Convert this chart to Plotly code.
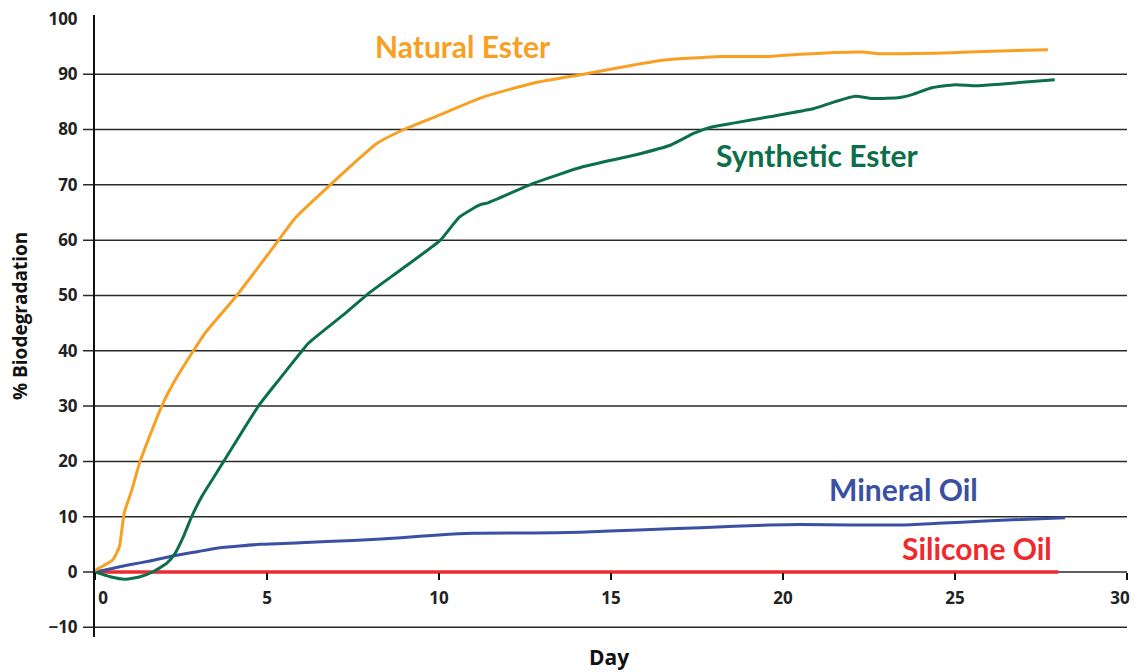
import plotly.graph_objects as go

# ---- data ----
natural_x = [0, 0.15, 0.52, 0.71, 0.78, 0.85, 1.07, 1.31, 1.94, 2.33, 2.86, 3.2, 4.12, 5.34, 5.82,
             6.84, 8.2, 8.98, 9.85, 11.3, 12.76, 14.2, 15.7, 16.6, 18.2, 19.6, 20.5, 21.5, 22.3,
             22.8, 23.4, 24.4, 25.4, 26.3, 27.7]
natural_y = [0.3, 0.8, 2.2, 4.6, 7.6, 10.7, 14.8, 20, 30, 34.7, 40, 43.2, 50, 60, 64,
             70, 77.5, 80, 82.2, 85.9, 88.4, 90, 91.7, 92.6, 93.2, 93.2, 93.6, 93.9, 94.0,
             93.7, 93.7, 93.8, 94.0, 94.2, 94.4]

synthetic_x = [0, 0.44, 0.87, 1.31, 1.69, 2.09, 2.33, 2.57, 2.81, 3.1, 3.4, 3.74, 4.75, 5.34,
               6.02, 6.21, 7.28, 8.0, 8.88, 10.04, 10.6, 11.2, 11.4, 12.76, 14.2, 15.7, 16.74,
               17.4, 17.9, 18.6, 19.6, 20.9, 21.5, 22.1, 22.6, 23.4, 23.8, 24.3, 25.0, 25.6,
               26.3, 27.9]
synthetic_y = [0, -0.85, -1.3, -0.85, 0.05, 1.6, 3.4, 6.4, 10, 13.6, 16.6, 20, 30, 34.7,
               40, 41.4, 46.8, 50.6, 54.6, 60, 64.2, 66.4, 66.7, 70.3, 73.3, 75.4, 77.2,
               79.3, 80.4, 81.2, 82.3, 83.8, 85.0, 86.0, 85.6, 85.8, 86.4, 87.5, 88.1, 87.9,
               88.2, 89.0]

mineral_x = [0, 0.5, 1, 1.6, 2.27, 3, 3.54, 4.2, 4.8, 5.97, 7.5, 8.9, 10, 11, 12.7, 14.1,
             15.8, 17.6, 19.6, 20.5, 22, 23.4, 24.5, 25.2, 26.5, 28.2]
mineral_y = [0, 0.65, 1.3, 2.0, 2.9, 3.7, 4.3, 4.7, 5.0, 5.3, 5.7, 6.2, 6.7, 7.0, 7.05, 7.2,
             7.6, 8.0, 8.5, 8.6, 8.5, 8.5, 8.8, 9.0, 9.4, 9.8]

silicone_x = [0, 28]
silicone_y = [0, 0]

y_ticks = [-10, 0, 10, 20, 30, 40, 50, 60, 70, 80, 90, 100]
grid_vals = [-10, 0, 10, 20, 30, 40, 50, 60, 70, 80, 90]
x_ticks = [0, 5, 10, 15, 20, 25, 30]
x_tick_text = ["0", "5", "10", "15", "20", "25", "30"]

labels = ["Natural Ester", "Synthetic Ester", "Mineral Oil", "Silicone Oil"]
label_x = [10.7, 21.0, 23.5, 25.65]
label_y = [95.1, 75.4, 15.0, 4.3]

C_ORANGE = "#F7A023"
C_GREEN = "#0B7049"
C_BLUE = "#3A50A2"
C_RED = "#EE2A2F"
colors = [C_ORANGE, C_GREEN, C_BLUE, C_RED]

LABEL_FONT = "Lato"
AXIS_FONT = "Open Sans"
YMIN, YMAX = -11.75, 100.7
PLOT_W, PLOT_H = 1032, 622
XPOS = (0 - YMIN) / (YMAX - YMIN)

fig = go.Figure()
fig.add_trace(go.Scatter(x=silicone_x, y=silicone_y, mode="lines",
                         line=dict(color=C_RED, width=3.5), showlegend=False))
fig.add_trace(go.Scatter(x=mineral_x, y=mineral_y, mode="lines",
                         line=dict(color=C_BLUE, width=3, shape="spline", smoothing=0.6),
                         showlegend=False))
fig.add_trace(go.Scatter(x=synthetic_x, y=synthetic_y, mode="lines",
                         line=dict(color=C_GREEN, width=3, shape="spline", smoothing=0.5),
                         showlegend=False))
fig.add_trace(go.Scatter(x=natural_x, y=natural_y, mode="lines",
                         line=dict(color=C_ORANGE, width=3, shape="spline", smoothing=0.5),
                         showlegend=False))

shapes = []
for g in grid_vals:
    shapes.append(dict(type="line", xref="paper", yref="y", x0=-12 / PLOT_W, x1=1, y0=g, y1=g,
                       line=dict(color="#2a2a2a", width=1.5), layer="below"))

annotations = []
for t, lx, ly, c in zip(labels, label_x, label_y, colors):
    annotations.append(dict(x=lx, y=ly, xref="x", yref="y", text="<b>%s</b>" % t,
                            showarrow=False, font=dict(family=LABEL_FONT, size=30, color=c)))
annotations.append(dict(x=(609 - 95) / PLOT_W, y=-20 / PLOT_H, xref="paper", yref="paper",
                        text="<b>Day</b>", showarrow=False, yanchor="middle",
                        font=dict(family=AXIS_FONT, size=21, color="#111")))
annotations.append(dict(x=-75 / PLOT_W, y=(637 - 316) / PLOT_H, xref="paper", yref="paper",
                        text="<b>% Biodegradation</b>", showarrow=False, textangle=-90,
                        xanchor="center", yanchor="middle",
                        font=dict(family=AXIS_FONT, size=19, color="#111")))

tickfont = dict(family=AXIS_FONT, size=17, color="#222", weight="bold")
common_x = dict(range=[0, 30], showgrid=False, zeroline=False, showline=False,
                ticks="outside", ticklen=7, tickwidth=2, anchor="free", position=XPOS,
                automargin=False, ticklabelstandoff=4, ticklabeloverflow="allow",
                tickfont=tickfont)

# page body has an 8px margin: compensate so the plot lands where the reference has it
fig.update_layout(
    width=1123, height=664,
    margin=dict(l=87, r=4, t=7, b=35, autoexpand=False),
    paper_bgcolor="white", plot_bgcolor="white",
    shapes=shapes, annotations=annotations,
    # main x axis: tick marks + middle labels
    xaxis=dict(tickvals=x_ticks, ticktext=[""] + x_tick_text[1:-1] + [""],
               tickcolor="#111", **common_x),
    # first label, nudged right as in the reference
    xaxis2=dict(tickvals=x_ticks[:1], ticktext=x_tick_text[:1], overlaying="x",
                tickcolor="rgba(0,0,0,0)", ticklabelshift=8, **common_x),
    # last label, nudged left so it stays inside the page
    xaxis3=dict(tickvals=x_ticks[-1:], ticktext=x_tick_text[-1:], overlaying="x",
                tickcolor="rgba(0,0,0,0)", ticklabelshift=-7, **common_x),
    yaxis=dict(range=[YMIN, YMAX], tickvals=y_ticks, showgrid=False, zeroline=False,
               showline=True, linecolor="#111", linewidth=2, automargin=False,
               ticks="outside", ticklen=12, tickcolor="rgba(0,0,0,0)",
               ticklabeloverflow="allow", tickfont=tickfont),
)
# invisible helper traces so the overlay axes are drawn
fig.add_trace(go.Scatter(x=[None], y=[None], xaxis="x2", showlegend=False, hoverinfo="skip"))
fig.add_trace(go.Scatter(x=[None], y=[None], xaxis="x3", showlegend=False, hoverinfo="skip"))

fig.write_html("out.html")
